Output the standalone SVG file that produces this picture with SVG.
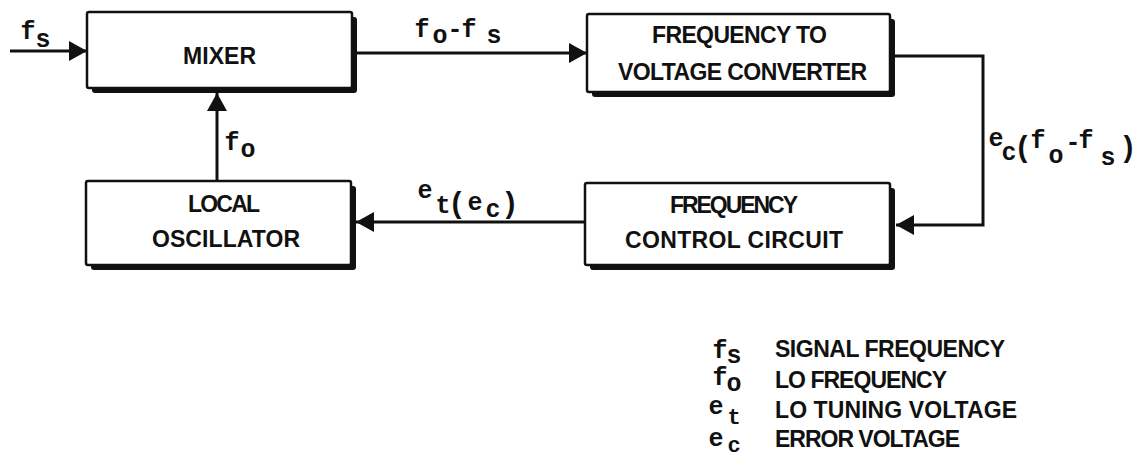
<svg xmlns="http://www.w3.org/2000/svg" width="1143" height="466" viewBox="0 0 1143 466">
<defs>
<style>
.bg{fill:#fff}
.shadow{fill:#111}
.box{fill:#fff;stroke:#111;stroke-width:2.5}
.lbl{font-family:"Liberation Sans",Arial,sans-serif;font-weight:bold;font-size:23px;fill:#111}
.m{font-family:"Liberation Mono","Courier New",monospace;font-weight:bold;font-size:25px;fill:#111;text-anchor:middle}
.s{font-size:22px}
.p{font-size:29px}
.wire{fill:none;stroke:#111;stroke-width:3}
</style>
<marker id="arr" markerUnits="userSpaceOnUse" markerWidth="18" markerHeight="20" viewBox="0 0 18 20" refX="18" refY="10" orient="auto">
<path d="M0,0 L18,10 L0,20 Z" fill="#111"/>
</marker>
</defs>
<rect class="bg" x="0" y="0" width="1143" height="466"/>

<g id="connectors">
<path class="wire" d="M10,51 H87" marker-end="url(#arr)"/>
<path class="wire" d="M352,53 H587" marker-end="url(#arr)"/>
<path class="wire" d="M890,56 H983 V225 H896" marker-end="url(#arr)"/>
<path class="wire" d="M585,222 H356" marker-end="url(#arr)"/>
<path class="wire" d="M217,181 V93" marker-end="url(#arr)"/>
</g>

<g id="mixer">
<rect class="shadow" x="92" y="17" width="265" height="76" rx="3"/>
<rect class="box" x="87" y="12" width="265" height="76" rx="2"/>
<text class="lbl" x="183" y="64" textLength="73" lengthAdjust="spacing">MIXER</text>
</g>

<g id="fvc">
<rect class="shadow" x="592" y="19" width="303" height="78" rx="3"/>
<rect class="box" x="587" y="14" width="303" height="78" rx="2"/>
<text class="lbl" x="652" y="43" textLength="175" lengthAdjust="spacing">FREQUENCY TO</text>
<text class="lbl" x="618" y="80" textLength="249" lengthAdjust="spacing">VOLTAGE CONVERTER</text>
</g>

<g id="lo">
<rect class="shadow" x="91" y="186" width="265" height="84" rx="3"/>
<rect class="box" x="86" y="181" width="265" height="84" rx="2"/>
<text class="lbl" x="188" y="212" textLength="72" lengthAdjust="spacing">LOCAL</text>
<text class="lbl" x="152" y="247" textLength="148" lengthAdjust="spacing">OSCILLATOR</text>
</g>

<g id="fcc">
<rect class="shadow" x="590" y="188" width="305" height="82" rx="3"/>
<rect class="box" x="585" y="183" width="305" height="82" rx="2"/>
<text class="lbl" x="670" y="213" textLength="128" lengthAdjust="spacing">FREQUENCY</text>
<text class="lbl" x="625" y="248" textLength="218" lengthAdjust="spacing">CONTROL CIRCUIT</text>
</g>

<g id="signal-labels">
<text class="m" x="28" y="39">f</text><text class="m" x="43" y="47">s</text>
<text class="m" x="422" y="37">f</text><text class="m" x="440" y="43">o</text><text class="m" x="455" y="37">-</text><text class="m" x="469" y="37">f</text><text class="m" x="494" y="43">s</text>
<text class="m" x="232" y="150">f</text><text class="m" x="248" y="157">o</text>
<text class="m" x="425" y="198">e</text><text class="m" x="443" y="213">t</text><text class="m p" x="457" y="213">(</text><text class="m" x="475" y="210">e</text><text class="m" x="493" y="217">c</text><text class="m p" x="510" y="213">)</text>
<text class="m" x="996" y="146">e</text><text class="m" x="1009" y="160">c</text><text class="m p" x="1023" y="157">(</text><text class="m" x="1038" y="148">f</text><text class="m" x="1056" y="163">o</text><text class="m" x="1073" y="150">-</text><text class="m" x="1086" y="148">f</text><text class="m" x="1108" y="165">s</text><text class="m p" x="1128" y="157">)</text>
</g>

<g id="legend">
<text class="m" x="720" y="358">f</text><text class="m" x="734" y="363">s</text>
<text class="lbl" x="775" y="357" textLength="230" lengthAdjust="spacing">SIGNAL FREQUENCY</text>
<text class="m" x="720" y="385">f</text><text class="m" x="734" y="391">o</text>
<text class="lbl" x="775" y="388" textLength="172" lengthAdjust="spacing">LO FREQUENCY</text>
<text class="m" x="716" y="414">e</text><text class="m s" x="734" y="424">t</text>
<text class="lbl" x="775" y="418" textLength="242" lengthAdjust="spacing">LO TUNING VOLTAGE</text>
<text class="m" x="716" y="446">e</text><text class="m s" x="734" y="452">c</text>
<text class="lbl" x="775" y="447" textLength="185" lengthAdjust="spacing">ERROR VOLTAGE</text>
</g>
</svg>
